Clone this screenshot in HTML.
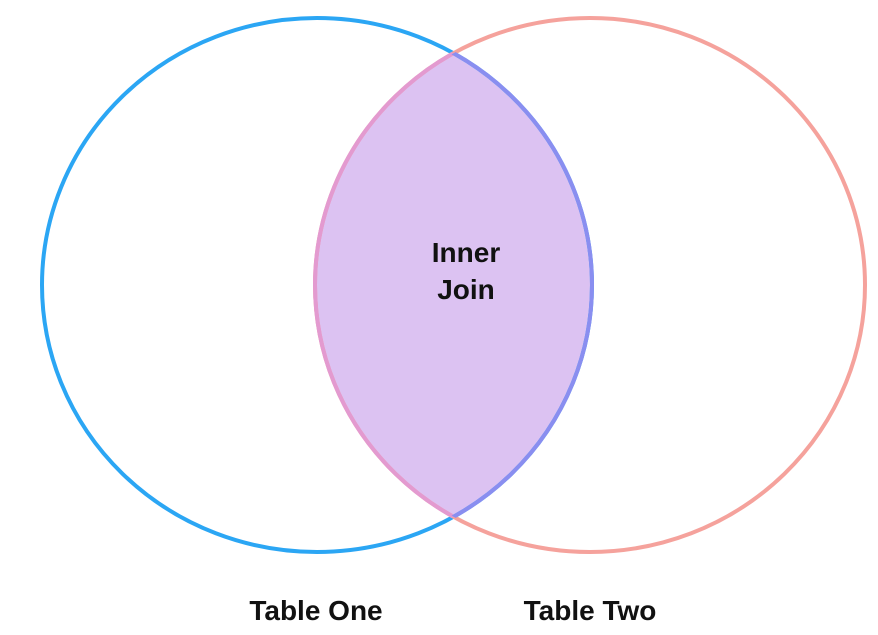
<!DOCTYPE html>
<html><head><style>
html,body{margin:0;padding:0;background:#fff;}
svg{display:block;}
text{font-family:"Liberation Sans",Arial,sans-serif;font-weight:bold;fill:#111;}
</style></head><body>
<svg width="878" height="635" viewBox="0 0 878 635" xmlns="http://www.w3.org/2000/svg">
<defs>
<clipPath id="cl"><ellipse cx="317" cy="285" rx="275" ry="267"/></clipPath>
<clipPath id="cr"><ellipse cx="590" cy="285" rx="275" ry="267"/></clipPath>
</defs>
<ellipse cx="590" cy="285" rx="275" ry="267" fill="#dcc2f2" clip-path="url(#cl)"/>
<ellipse cx="317" cy="285" rx="275" ry="267" fill="none" stroke="#2ba6f4" stroke-width="4"/>
<ellipse cx="590" cy="285" rx="275" ry="267" fill="none" stroke="#f5a29c" stroke-width="4"/>
<g clip-path="url(#cl)">
<ellipse cx="590" cy="285" rx="275" ry="267" fill="none" stroke="#e39ad0" stroke-width="4"/>
</g>
<g clip-path="url(#cr)">
<ellipse cx="317" cy="285" rx="275" ry="267" fill="none" stroke="#8a8ef0" stroke-width="4"/>
</g>
<text x="466" y="262" font-size="28" text-anchor="middle">Inner</text>
<text x="466" y="299" font-size="28" text-anchor="middle">Join</text>
<text x="316" y="620" font-size="28" text-anchor="middle">Table One</text>
<text x="590" y="620" font-size="28" text-anchor="middle">Table Two</text>
</svg>
</body></html>
